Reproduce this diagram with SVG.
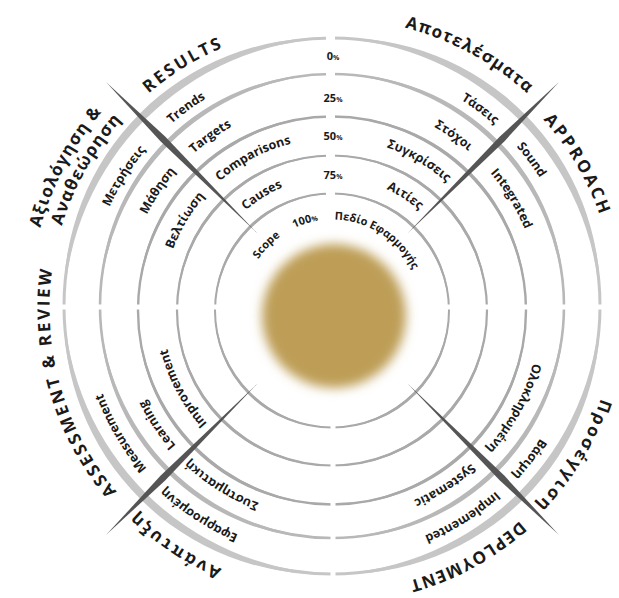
<svg xmlns="http://www.w3.org/2000/svg" xmlns:xlink="http://www.w3.org/1999/xlink" width="619" height="598" viewBox="0 0 619 598">
<style>
.base{fill:none}
.r1{fill:#a9a9a9;stroke:#a9a9a9}
.r5{fill:#c6c6c6;stroke:#c6c6c6}
.r4{fill:#b8b8b8;stroke:#b8b8b8}
.gap{fill:#ffffff}
.spike{fill:#555555}
text{font-family:"Open Sans","Liberation Sans",sans-serif;font-weight:700;fill:#1a1a1a}
.lbl{font-size:12.5px}
.sm{font-size:11px}
.out{font-size:17px;letter-spacing:2.5px}
.tight{letter-spacing:1.2px}
.pct{font-size:11px;text-anchor:middle}
.ps{font-size:7px}
</style>
<defs>
<filter id="blur" x="-30%" y="-30%" width="160%" height="160%"><feGaussianBlur stdDeviation="5.5"/></filter>
<path id="spk" d="M438.5,308.5 L572.5,305.2 L652.5,308.5 L572.5,311.8 Z"/>
<path id="p89" d="M332.5,397.5 A89,89 0 1 1 332.5,219.5 A89,89 0 1 1 332.5,397.5"/>
<path id="p131" d="M332.5,439.5 A131,131 0 1 1 332.5,177.5 A131,131 0 1 1 332.5,439.5"/>
<path id="p170" d="M332.5,478.5 A170,170 0 1 1 332.5,138.5 A170,170 0 1 1 332.5,478.5"/>
<path id="p208" d="M332.5,516.5 A208,208 0 1 1 332.5,100.5 A208,208 0 1 1 332.5,516.5"/>
<path id="p245" d="M332.5,553.5 A245,245 0 1 1 332.5,63.5 A245,245 0 1 1 332.5,553.5"/>
<path id="p283" d="M332.5,591.5 A283,283 0 1 1 332.5,25.5 A283,283 0 1 1 332.5,591.5"/>
<path id="p290" d="M332.5,598.5 A290,290 0 1 1 332.5,18.5 A290,290 0 1 1 332.5,598.5"/>
<path id="p303" d="M332.5,611.5 A303,303 0 1 1 332.5,5.5 A303,303 0 1 1 332.5,611.5"/>
</defs>
<rect width="619" height="598" fill="#ffffff"/>

<g id="rings">
<g id="ring1" class="r1">
<circle class="base" cx="332" cy="310.5" r="117" stroke-width="2"/>
<path stroke="none" d="M332,193.5 A113.56,113.56 0 0 1 449,310.5 A120.82,120.82 0 0 0 332,193.5 Z M449,310.5 A113.56,113.56 0 0 1 332,427.5 A120.82,120.82 0 0 0 449,310.5 Z M332,427.5 A113.56,113.56 0 0 1 215,310.5 A120.82,120.82 0 0 0 332,427.5 Z M215,310.5 A113.56,113.56 0 0 1 332,193.5 A120.82,120.82 0 0 0 215,310.5 Z"/>
</g>
<g id="ring2" class="r1">
<circle class="base" cx="332" cy="310.5" r="155" stroke-width="2.2"/>
<path stroke="none" d="M332,155.5 A151.3,151.3 0 0 1 487,310.5 A159.03,159.03 0 0 0 332,155.5 Z M487,310.5 A151.3,151.3 0 0 1 332,465.5 A159.03,159.03 0 0 0 487,310.5 Z M332,465.5 A151.3,151.3 0 0 1 177,310.5 A159.03,159.03 0 0 0 332,465.5 Z M177,310.5 A151.3,151.3 0 0 1 332,155.5 A159.03,159.03 0 0 0 177,310.5 Z"/>
</g>
<g id="ring3" class="r1">
<circle class="base" cx="332" cy="310.5" r="194" stroke-width="2.4"/>
<path stroke="none" d="M332,116.5 A189.82,189.82 0 0 1 526,310.5 A198.52,198.52 0 0 0 332,116.5 Z M526,310.5 A189.82,189.82 0 0 1 332,504.5 A198.52,198.52 0 0 0 526,310.5 Z M332,504.5 A189.82,189.82 0 0 1 138,310.5 A198.52,198.52 0 0 0 332,504.5 Z M138,310.5 A189.82,189.82 0 0 1 332,116.5 A198.52,198.52 0 0 0 138,310.5 Z"/>
</g>
<g id="ring4" class="r4">
<circle class="base" cx="332" cy="306" r="232" stroke-width="2.6"/>
<path stroke="none" d="M332,74 A226.22,226.22 0 0 1 564,306 A238.31,238.31 0 0 0 332,74 Z M564,306 A226.22,226.22 0 0 1 332,538 A238.31,238.31 0 0 0 564,306 Z M332,538 A226.22,226.22 0 0 1 100,306 A238.31,238.31 0 0 0 332,538 Z M100,306 A226.22,226.22 0 0 1 332,74 A238.31,238.31 0 0 0 100,306 Z"/>
</g>
<g id="ring5" class="r5">
<circle class="base" cx="332" cy="306" r="268" stroke-width="3"/>
<path stroke="none" d="M332,38 A258.91,258.91 0 0 1 600,306 A278.28,278.28 0 0 0 332,38 Z M600,306 A258.91,258.91 0 0 1 332,574 A278.28,278.28 0 0 0 600,306 Z M332,574 A258.91,258.91 0 0 1 64,306 A278.28,278.28 0 0 0 332,574 Z M64,306 A258.91,258.91 0 0 1 332,38 A278.28,278.28 0 0 0 64,306 Z"/>
</g>
<g id="gaps" class="gap">
<rect x="326" y="28" width="9" height="172"/>
<rect x="330.5" y="420" width="5" height="165"/>
<rect x="52" y="304.5" width="175" height="5"/>
<rect x="440" y="304.5" width="172" height="5"/>
</g>
</g>

<g id="connectors">
<use xlink:href="#spk" class="spike" transform="rotate(-45 332.5 308.5)"/>
<use xlink:href="#spk" class="spike" transform="rotate(45 332.5 308.5)"/>
<use xlink:href="#spk" class="spike" transform="rotate(135 332.5 308.5)"/>
<use xlink:href="#spk" class="spike" transform="rotate(225 332.5 308.5)"/>
</g>

<g id="core">
<circle cx="334" cy="316" r="72" fill="#be9e57" filter="url(#blur)"/>
</g>

<g id="percent">
<text class="pct" x="333" y="60">0<tspan class="ps">%</tspan></text>
<text class="pct" x="333" y="101.5">25<tspan class="ps">%</tspan></text>
<text class="pct" x="333" y="140">50<tspan class="ps">%</tspan></text>
<text class="pct" x="333" y="179">75<tspan class="ps">%</tspan></text>
</g>

<g id="inner-row" class="sm">
<text><textPath xlink:href="#p89" startOffset="37.19%" text-anchor="middle">Scope</textPath></text>
<text><textPath xlink:href="#p89" startOffset="45.19%" text-anchor="middle">100<tspan class="ps">%</tspan></textPath></text>
<text><textPath xlink:href="#p89" startOffset="59.08%" text-anchor="middle">Πεδίο Εφαρμογής</textPath></text>
</g>

<g id="results-quadrant" class="lbl">
<text><textPath xlink:href="#p131" startOffset="41.14%" text-anchor="middle">Causes</textPath></text>
<text><textPath xlink:href="#p170" startOffset="42.28%" text-anchor="middle">Comparisons</textPath></text>
<text><textPath xlink:href="#p208" startOffset="40.17%" text-anchor="middle">Targets</textPath></text>
<text><textPath xlink:href="#p245" startOffset="39.97%" text-anchor="middle">Trends</textPath></text>
<text><textPath xlink:href="#p170" startOffset="33.56%" text-anchor="middle">Βελτίωση</textPath></text>
<text><textPath xlink:href="#p208" startOffset="34.44%" text-anchor="middle">Μάθηση</textPath></text>
<text><textPath xlink:href="#p245" startOffset="34%" text-anchor="middle">Μετρήσεις</textPath></text>
</g>

<g id="approach-quadrant" class="lbl">
<text><textPath xlink:href="#p131" startOffset="59.11%" text-anchor="middle">Αιτίες</textPath></text>
<text><textPath xlink:href="#p170" startOffset="58.42%" text-anchor="middle">Συγκρίσεις</textPath></text>
<text><textPath xlink:href="#p208" startOffset="59.72%" text-anchor="middle">Στόχοι</textPath></text>
<text><textPath xlink:href="#p245" startOffset="60.14%" text-anchor="middle">Τάσεις</textPath></text>
<text><textPath xlink:href="#p245" startOffset="64.78%" text-anchor="middle">Sound</textPath></text>
<text><textPath xlink:href="#p208" startOffset="66.25%" text-anchor="middle">Integrated</textPath></text>
</g>

<g id="deployment-quadrant" class="lbl">
<text><textPath xlink:href="#p208" startOffset="83%" text-anchor="middle">Ολοκληρωμένη</textPath></text>
<text><textPath xlink:href="#p245" startOffset="85.39%" text-anchor="middle">Βάσιμη</textPath></text>
<text><textPath xlink:href="#p208" startOffset="91%" text-anchor="middle">Systematic</textPath></text>
<text><textPath xlink:href="#p245" startOffset="91.14%" text-anchor="middle">Implemented</textPath></text>
</g>

<g id="assessment-quadrant" class="lbl">
<text><textPath xlink:href="#p170" startOffset="17.19%" text-anchor="middle">Improvement</textPath></text>
<text><textPath xlink:href="#p208" startOffset="15.67%" text-anchor="middle">Learning</textPath></text>
<text><textPath xlink:href="#p245" startOffset="16.53%" text-anchor="middle">Measurement</textPath></text>
<text><textPath xlink:href="#p208" startOffset="8.92%" text-anchor="middle">Συστηματική</textPath></text>
<text><textPath xlink:href="#p245" startOffset="9.14%" text-anchor="middle">Εφαρμοσμένη</textPath></text>
</g>

<g id="outer-labels" class="out">
<text><textPath xlink:href="#p283" startOffset="41.25%" text-anchor="middle">RESULTS</textPath></text>
<text class="tight"><textPath xlink:href="#p290" startOffset="57.89%" text-anchor="middle">Αποτελέσματα</textPath></text>
<text><textPath xlink:href="#p283" startOffset="66.56%" text-anchor="middle">APPROACH</textPath></text>
<text><textPath xlink:href="#p283" startOffset="83.75%" text-anchor="middle">Προσέγγιση</textPath></text>
<text class="tight"><textPath xlink:href="#p283" startOffset="92.08%" text-anchor="middle">DEPLOYMENT</textPath></text>
<text><textPath xlink:href="#p283" startOffset="9.36%" text-anchor="middle">Ανάπτυξη</textPath></text>
<text><textPath xlink:href="#p283" startOffset="20.56%" text-anchor="middle">ASSESSMENT &amp; REVIEW</textPath></text>
<text class="tight"><textPath xlink:href="#p303" startOffset="32.78%" text-anchor="middle">Αξιολόγηση &amp;</textPath></text>
<text class="tight"><textPath xlink:href="#p283" startOffset="33.19%" text-anchor="middle">Αναθεώρηση</textPath></text>
</g>
</svg>
